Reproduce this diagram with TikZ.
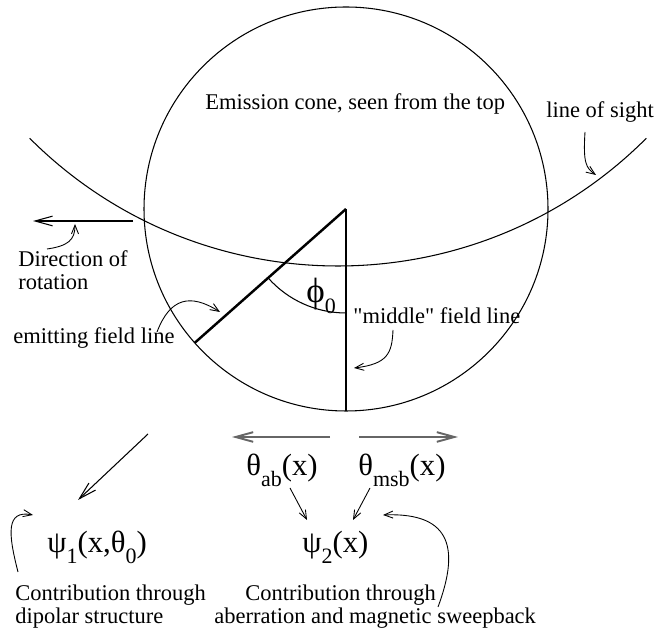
\documentclass[tikz,border=0pt]{standalone}
\usepackage{fontspec}
\setmainfont{Liberation Serif}
\usetikzlibrary{arrows.meta,positioning}

\newcommand{\lowsub}[1]{\raisebox{-6pt}{\fontsize{12.5}{14}\selectfont #1}}
\newcommand{\greekfont}{\fontsize{17.5}{20}\selectfont}

\begin{document}
\begin{tikzpicture}[x=0.02cm, y=0.02cm,
  lbl/.style={inner sep=0pt, anchor=base west, font=\fontsize{12.8}{15}\selectfont},
  sym/.style={inner sep=0pt, anchor=base west, font=\greekfont},
  ptr/.style={-{Straight Barb[length=5pt,width=4pt]}, line width=0.5pt},
  bigarrow/.style={-{Straight Barb[length=10pt,width=5.5pt]}, line width=0.6pt},
  thetaarrow/.style={-{Straight Barb[length=10pt,width=5.5pt]}, line width=1.1pt, draw=black!60},
  fieldline/.style={line width=1.4pt}]
  \useasboundingbox (0,0) rectangle (655,638);

  % Cone and line of sight
  \coordinate (apex) at (346,429);
  \coordinate (mid) at (346,227);
  \draw[line width=0.6pt] (apex) circle[radius=202];
  \draw[line width=0.6pt] (338,808) ++(225:436) arc[start angle=225, end angle=315, radius=436];

  % Field lines and angle
  \draw[fieldline] (apex) -- (mid);
  \draw[fieldline] (apex) -- ++(221.5:202) coordinate (emit);
  \draw[line width=0.6pt] (apex) ++(221.5:104) arc[start angle=221.5, end angle=270, radius=104];
  \node[sym, font=\fontsize{20}{22}\selectfont] (phi) at (306,335) {ϕ\lowsub{0}};

  % Labels in the upper part
  \node[lbl] (cone) at (205,528) {Emission cone, seen from the top};
  \node[lbl] (los) at (546,520) {line of sight};
  \draw[ptr] (585,506) .. controls (583,475) and (586,470) .. (596,463);

  \node[lbl] (dir1) at (18,371) {Direction of};
  \node[lbl] (dir2) at (18,348) {rotation};
  \coordinate (rotS) at (133,417);
  \coordinate (rotE) at (33,417);
  \draw[bigarrow] (rotS) -- (rotE);
  \draw[ptr] (47,389) .. controls (68,392) and (75,398) .. (75,414);

  \node[lbl] (emitlbl) at (13,294) {emitting field line};
  \draw[ptr] (157,306) .. controls (170,340) and (190,345) .. (220,326);

  \node[lbl] (midlbl) at (353,314) {\textquotedbl middle\textquotedbl{} field line};
  \draw[ptr] (393,308) .. controls (392,285) and (388,274) .. (354,270);

  % Angle contributions
  \draw[thetaarrow] (330,201) -- (232,201);
  \draw[thetaarrow] (359,201) -- (458,201);
  \node[sym] (thab) at (246,162) {θ\lowsub{ab}(x)};
  \node[sym] (thmsb) at (358,162) {θ\lowsub{msb}(x)};

  \node[sym] (psi1) at (47,85) {ψ\lowsub{1}(x,θ\lowsub{0})};
  \node[sym] (psi2) at (302,85) {ψ\lowsub{2}(x)};
  \draw[ptr] (290,150) -- (307,118);
  \draw[ptr] (370,150) -- (353,118);
  \draw[bigarrow] (148,204) -- (78,138);

  % Bottom texts
  \node[lbl] (c1a) at (15,37) {Contribution through};
  \node[lbl] (c1b) at (15,14) {dipolar structure};
  \node[lbl] (c2a) at (245,37) {Contribution through};
  \node[lbl] (c2b) at (214,14) {aberration and magnetic sweepback};
  \draw[ptr] (18,66) .. controls (8,105) and (6,128) .. (33,123);
  \draw[ptr] (438,31) .. controls (458,85) and (455,126) .. (383,123);
\end{tikzpicture}
\end{document}
